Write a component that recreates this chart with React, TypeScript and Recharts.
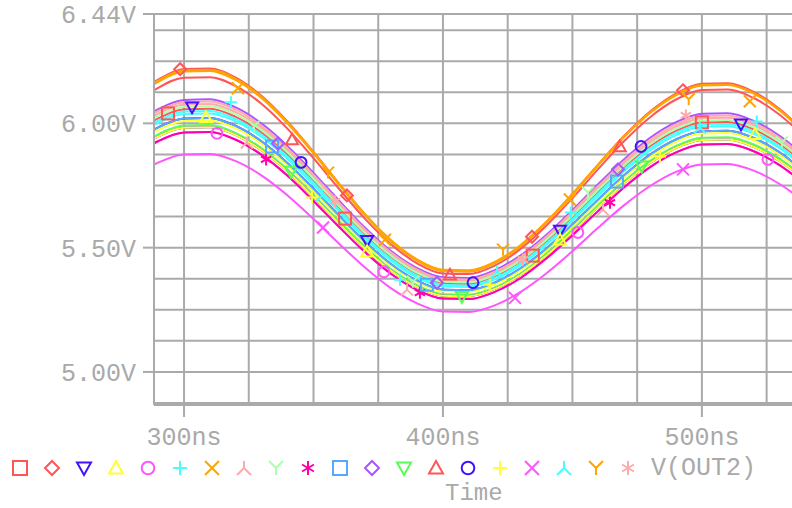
import { CartesianGrid, ComposedChart, Line, Scatter, XAxis, YAxis } from "recharts";

// simulation time (ns)
const TIME = [285, 290, 300, 310, 320, 330, 340, 350, 360, 370, 380, 390, 400, 410, 420, 430, 440, 450, 460, 470, 480, 490, 500, 510, 520, 530, 540];

// traces (V)
const S01 = [5.990, 6.020, 6.057, 6.059, 6.026, 5.963, 5.874, 5.769, 5.658, 5.551, 5.460, 5.393, 5.357, 5.354, 5.384, 5.443, 5.525, 5.622, 5.725, 5.824, 5.908, 5.970, 6.004, 6.006, 5.976, 5.917, 5.835];
const S02 = [6.142, 6.176, 6.219, 6.221, 6.184, 6.110, 6.007, 5.885, 5.756, 5.632, 5.526, 5.449, 5.406, 5.404, 5.439, 5.507, 5.603, 5.716, 5.835, 5.950, 6.048, 6.120, 6.159, 6.161, 6.127, 6.058, 5.963];
const S03 = [5.954, 5.984, 6.020, 6.022, 5.990, 5.927, 5.840, 5.737, 5.627, 5.523, 5.433, 5.367, 5.331, 5.329, 5.359, 5.417, 5.497, 5.593, 5.694, 5.791, 5.874, 5.935, 5.968, 5.970, 5.941, 5.883, 5.802];
const S04 = [5.945, 5.974, 6.010, 6.012, 5.980, 5.918, 5.831, 5.728, 5.620, 5.516, 5.427, 5.361, 5.325, 5.323, 5.352, 5.410, 5.490, 5.586, 5.686, 5.783, 5.865, 5.926, 5.959, 5.961, 5.932, 5.874, 5.794];
const S05 = [5.899, 5.928, 5.963, 5.965, 5.934, 5.873, 5.789, 5.688, 5.582, 5.481, 5.394, 5.330, 5.295, 5.293, 5.322, 5.378, 5.457, 5.550, 5.648, 5.743, 5.824, 5.883, 5.915, 5.917, 5.888, 5.832, 5.753];
const S06 = [5.981, 6.011, 6.048, 6.050, 6.017, 5.954, 5.866, 5.761, 5.650, 5.544, 5.454, 5.387, 5.351, 5.348, 5.378, 5.437, 5.518, 5.615, 5.718, 5.816, 5.900, 5.962, 5.995, 5.997, 5.967, 5.908, 5.827];
const S07 = [6.138, 6.172, 6.214, 6.216, 6.179, 6.106, 6.004, 5.884, 5.756, 5.634, 5.530, 5.453, 5.411, 5.409, 5.443, 5.511, 5.605, 5.716, 5.835, 5.948, 6.044, 6.116, 6.154, 6.156, 6.122, 6.054, 5.960];
const S08 = [6.008, 6.039, 6.076, 6.078, 6.045, 5.981, 5.891, 5.785, 5.673, 5.565, 5.473, 5.405, 5.369, 5.366, 5.396, 5.456, 5.539, 5.637, 5.740, 5.839, 5.924, 5.987, 6.021, 6.023, 5.993, 5.933, 5.851];
const S09 = [6.000, 6.030, 6.067, 6.069, 6.036, 5.972, 5.883, 5.777, 5.665, 5.558, 5.467, 5.399, 5.363, 5.360, 5.390, 5.449, 5.532, 5.629, 5.733, 5.831, 5.916, 5.978, 6.012, 6.014, 5.984, 5.925, 5.842];
const S10 = [5.899, 5.928, 5.963, 5.965, 5.934, 5.873, 5.789, 5.688, 5.582, 5.481, 5.394, 5.330, 5.295, 5.293, 5.322, 5.378, 5.457, 5.550, 5.648, 5.743, 5.824, 5.883, 5.915, 5.917, 5.888, 5.832, 5.753];
const S11 = [5.954, 5.984, 6.020, 6.022, 5.990, 5.927, 5.840, 5.737, 5.627, 5.523, 5.433, 5.367, 5.331, 5.329, 5.359, 5.417, 5.497, 5.593, 5.694, 5.791, 5.874, 5.935, 5.968, 5.970, 5.941, 5.883, 5.802];
const S12 = [6.027, 6.057, 6.094, 6.097, 6.064, 5.999, 5.908, 5.801, 5.688, 5.579, 5.486, 5.418, 5.381, 5.378, 5.409, 5.469, 5.552, 5.651, 5.756, 5.856, 5.942, 6.005, 6.039, 6.041, 6.010, 5.950, 5.867];
const S13 = [5.926, 5.956, 5.991, 5.993, 5.961, 5.900, 5.814, 5.712, 5.605, 5.502, 5.413, 5.349, 5.313, 5.311, 5.340, 5.397, 5.477, 5.572, 5.672, 5.767, 5.849, 5.909, 5.942, 5.944, 5.915, 5.858, 5.778];
const S14 = [6.109, 6.143, 6.184, 6.186, 6.150, 6.078, 5.978, 5.860, 5.735, 5.615, 5.513, 5.437, 5.396, 5.394, 5.428, 5.495, 5.589, 5.699, 5.817, 5.929, 6.025, 6.096, 6.134, 6.136, 6.102, 6.035, 5.942];
const S15 = [5.918, 5.947, 5.982, 5.984, 5.953, 5.891, 5.806, 5.704, 5.597, 5.495, 5.407, 5.342, 5.307, 5.305, 5.334, 5.391, 5.470, 5.564, 5.664, 5.759, 5.841, 5.901, 5.933, 5.935, 5.906, 5.849, 5.770];
const S16 = [5.918, 5.947, 5.982, 5.984, 5.953, 5.891, 5.806, 5.704, 5.597, 5.495, 5.407, 5.342, 5.307, 5.305, 5.334, 5.391, 5.470, 5.564, 5.664, 5.759, 5.841, 5.901, 5.933, 5.935, 5.906, 5.849, 5.770];
const S17 = [5.815, 5.842, 5.875, 5.877, 5.848, 5.790, 5.710, 5.615, 5.515, 5.419, 5.336, 5.276, 5.243, 5.241, 5.268, 5.322, 5.397, 5.486, 5.581, 5.671, 5.748, 5.805, 5.835, 5.837, 5.810, 5.756, 5.681];
const S18 = [5.972, 6.002, 6.038, 6.040, 6.008, 5.945, 5.857, 5.753, 5.643, 5.537, 5.447, 5.380, 5.344, 5.342, 5.372, 5.430, 5.512, 5.608, 5.710, 5.808, 5.891, 5.953, 5.986, 5.988, 5.958, 5.900, 5.818];
const S19 = [6.133, 6.167, 6.209, 6.211, 6.174, 6.101, 5.999, 5.879, 5.751, 5.629, 5.525, 5.448, 5.406, 5.404, 5.438, 5.506, 5.601, 5.713, 5.831, 5.945, 6.042, 6.113, 6.152, 6.154, 6.120, 6.052, 5.957];
const S20 = [6.018, 6.049, 6.085, 6.088, 6.055, 5.990, 5.900, 5.793, 5.680, 5.572, 5.480, 5.412, 5.375, 5.372, 5.403, 5.462, 5.545, 5.644, 5.748, 5.848, 5.933, 5.996, 6.030, 6.032, 6.002, 5.942, 5.859];

// marker points [ns, V]
const M01 = [[293.8, 6.040], [362.2, 5.617], [434.7, 5.468], [500.0, 6.004]];
const M02 = [[298.5, 6.218], [362.9, 5.710], [434.4, 5.544], [492.7, 6.133]];
const M03 = [[303.1, 6.065], [370.7, 5.528], [445.2, 5.569], [515.1, 5.996]];
const M04 = [[308.5, 6.024], [370.7, 5.484], [445.2, 5.532], [520.5, 5.956]];
const M05 = [[312.7, 5.960], [377.2, 5.403], [452.1, 5.561], [525.5, 5.855]];
const M06 = [[318.1, 6.085], [383.4, 5.371], [449.4, 5.641], [521.2, 6.008]];
const M07 = [[320.8, 6.141], [377.6, 5.532], [449.0, 5.694], [518.5, 6.089]];
const M08 = [[324.3, 5.923], [386.1, 5.331], [461.8, 5.653]];
const M09 = [[327.0, 5.988], [388.4, 5.363], [456.0, 5.722], [530.9, 5.923]];
const M10 = [[331.7, 5.855], [391.1, 5.319], [464.5, 5.681]];
const M11 = [[334.0, 5.907], [393.8, 5.351], [467.2, 5.766]];
const M12 = [[336.3, 5.919], [397.7, 5.359], [467.6, 5.815]];
const M13 = [[341.3, 5.806], [407.3, 5.302], [476.8, 5.827]];
const M14 = [[341.7, 5.935], [402.7, 5.391], [468.3, 5.907]];
const M15 = [[345.2, 5.843], [411.6, 5.359], [476.5, 5.907]];
const M16 = [[349.4, 5.702], [418.1, 5.351], [483.8, 5.867]];
const M17 = [[353.7, 5.581], [427.8, 5.298], [492.7, 5.815]];
const M18 = [[353.3, 5.710], [420.9, 5.403], [499.2, 5.984]];
const M19 = [[355.6, 5.802], [423.2, 5.492], [494.9, 6.097]];
const M20 = [[358.3, 5.686], [430.9, 5.452], [493.8, 6.032]];

const Y_TICKS = [5.0, 5.5, 6.0, 6.44];
const T_TICKS = [300, 400, 500];
const Y_GRID = [4.875, 5.0, 5.125, 5.25, 5.375, 5.5, 5.625, 5.75, 5.875, 6.0, 6.125, 6.25, 6.375, 6.44];
const T_GRID = [300, 325, 350, 375, 400, 425, 450, 475, 500, 525];
const TRACE_NAME = "V(OUT2)";

const GRAY = "#a9a9a9";
const FONT = "'Liberation Mono', 'DejaVu Sans Mono', monospace";

const SERIES = [
  { key: "s1", values: S01, marks: M01, color: "#ff5555", shape: "square" },
  { key: "s2", values: S02, marks: M02, color: "#ff5555", shape: "diamond" },
  { key: "s3", values: S03, marks: M03, color: "#4411ff", shape: "tdown" },
  { key: "s4", values: S04, marks: M04, color: "#ffff33", shape: "tup" },
  { key: "s5", values: S05, marks: M05, color: "#ff55ff", shape: "circle" },
  { key: "s6", values: S06, marks: M06, color: "#44ffff", shape: "plus" },
  { key: "s7", values: S07, marks: M07, color: "#ffa500", shape: "cross" },
  { key: "s8", values: S08, marks: M08, color: "#ffaaaa", shape: "lambda" },
  { key: "s9", values: S09, marks: M09, color: "#aaffaa", shape: "ylet" },
  { key: "s10", values: S10, marks: M10, color: "#ff00aa", shape: "star" },
  { key: "s11", values: S11, marks: M11, color: "#55aaff", shape: "square" },
  { key: "s12", values: S12, marks: M12, color: "#aa55ff", shape: "diamond" },
  { key: "s13", values: S13, marks: M13, color: "#55ff55", shape: "tdown" },
  { key: "s14", values: S14, marks: M14, color: "#ff5555", shape: "tup" },
  { key: "s15", values: S15, marks: M15, color: "#4411ff", shape: "circle" },
  { key: "s16", values: S16, marks: M16, color: "#ffff33", shape: "plus" },
  { key: "s17", values: S17, marks: M17, color: "#ff55ff", shape: "cross" },
  { key: "s18", values: S18, marks: M18, color: "#44ffff", shape: "lambda" },
  { key: "s19", values: S19, marks: M19, color: "#ffa500", shape: "ylet" },
  { key: "s20", values: S20, marks: M20, color: "#ffaaaa", shape: "star" },
];

const rows = TIME.map((t, i) => {
  const row: Record<string, number> = { t };
  SERIES.forEach((s) => (row[s.key] = s.values[i]));
  return row;
});

function Mark({ kind, x, y, color, r = 6 }: { kind: string; x: number; y: number; color: string; r?: number }) {
  const p = { stroke: color, strokeWidth: 2, fill: "none" };
  switch (kind) {
    case "square":
      return <rect x={x - r} y={y - r} width={2 * r} height={2 * r} {...p} />;
    case "diamond":
      return <polygon points={`${x},${y - r} ${x + r},${y} ${x},${y + r} ${x - r},${y}`} {...p} />;
    case "tdown":
      return <polygon points={`${x - r},${y - r * 0.8} ${x + r},${y - r * 0.8} ${x},${y + r}`} {...p} />;
    case "tup":
      return <polygon points={`${x - r},${y + r * 0.8} ${x + r},${y + r * 0.8} ${x},${y - r}`} {...p} />;
    case "circle":
      return <circle cx={x} cy={y} r={r * 0.9} {...p} />;
    case "plus":
      return <path d={`M${x - r},${y}H${x + r}M${x},${y - r}V${y + r}`} {...p} />;
    case "cross":
      return <path d={`M${x - r},${y - r}L${x + r},${y + r}M${x + r},${y - r}L${x - r},${y + r}`} {...p} />;
    case "lambda":
      return <path d={`M${x},${y - r}V${y}L${x - r},${y + r}M${x},${y}L${x + r},${y + r}`} {...p} />;
    case "ylet":
      return <path d={`M${x - r},${y - r}L${x},${y}L${x + r},${y - r}M${x},${y}V${y + r}`} {...p} />;
    default:
      return (
        <path
          d={`M${x},${y - r}V${y + r}M${x - r * 0.85},${y - r * 0.5}L${x + r * 0.85},${y + r * 0.5}M${x + r * 0.85},${y - r * 0.5}L${x - r * 0.85},${y + r * 0.5}`}
          {...p}
        />
      );
  }
}

function LegendRow() {
  return (
    <svg width={792} height={68} style={{ position: "absolute", left: 0, top: 440 }}>
      {SERIES.map((s, i) => (
        <Mark key={s.key} kind={s.shape} x={20 + i * 32} y={28} color={s.color} r={7} />
      ))}
      <text x={651} y={35} fill={GRAY} fontSize={25} fontFamily={FONT}>
        {TRACE_NAME}
      </text>
      <text x={445} y={60} fill={GRAY} fontSize={24} fontFamily={FONT}>
        Time
      </text>
    </svg>
  );
}

export default function App() {
  const tick = { fill: GRAY, fontSize: 25, fontFamily: FONT };
  return (
    <div style={{ position: "absolute", left: 0, top: 0, width: 792, height: 508, background: "#fff", overflow: "hidden" }}>
      <ComposedChart width={792} height={508} data={rows} margin={{ top: 14, right: 0, bottom: 63, left: 0 }}>
        <CartesianGrid
          stroke="#aaaaaa"
          strokeWidth={2}
          horizontalValues={Y_GRID}
          verticalValues={T_GRID}
        />
        <XAxis
          dataKey="t"
          type="number"
          domain={[288.4, 534.8]}
          allowDataOverflow
          ticks={T_TICKS}
          tickFormatter={(v: number) => `${v}ns`}
          tick={tick}
          tickSize={12}
          tickMargin={10}
          height={40}
          axisLine={{ stroke: "#aaaaaa", strokeWidth: 2 }}
          tickLine={{ stroke: "#aaaaaa", strokeWidth: 2 }}
        />
        <YAxis
          type="number"
          domain={[4.867, 6.44]}
          allowDataOverflow
          ticks={Y_TICKS}
          interval={0}
          tickFormatter={(v: number) => `${v.toFixed(2)}V`}
          tick={tick}
          tickSize={11}
          tickMargin={7}
          width={154}
          axisLine={{ stroke: "#aaaaaa", strokeWidth: 2 }}
          tickLine={{ stroke: "#aaaaaa", strokeWidth: 2 }}
        />
        {SERIES.map((s) => (
          <Line
            key={s.key}
            dataKey={s.key}
            type="monotone"
            stroke={s.color}
            strokeWidth={2}
            dot={false}
            activeDot={false}
            isAnimationActive={false}
          />
        ))}
        {SERIES.map((s) => (
          <Scatter
            key={"m" + s.key}
            data={s.marks.map(([t, v]) => ({ t, v }))}
            dataKey="v"
            isAnimationActive={false}
            shape={(props: any) => <Mark kind={s.shape} x={props.cx} y={props.cy} color={s.color} />}
          />
        ))}
      </ComposedChart>
      <LegendRow />
    </div>
  );
}
